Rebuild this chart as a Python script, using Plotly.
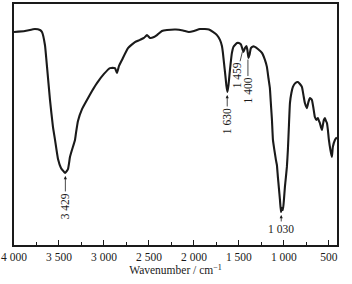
import plotly.graph_objects as go

wavenumber = [4000, 3878, 3767, 3711, 3689, 3656, 3633, 3600, 3567, 3544, 3511, 3478, 3433, 3400,
              3378, 3356, 3322, 3311, 3289, 3244, 3189, 3133, 3078, 3000, 2933, 2878, 2856, 2833,
              2800, 2733, 2656, 2600, 2556, 2522, 2489, 2444, 2411, 2356, 2300, 2200, 2122, 2056,
              2000, 1933, 1878, 1833, 1789, 1744, 1711, 1689, 1678, 1667, 1650, 1639, 1628, 1617,
              1600, 1578, 1561, 1544, 1522, 1500, 1478, 1461, 1450, 1433, 1417, 1406, 1394, 1383,
              1367, 1344, 1322, 1289, 1244, 1211, 1189, 1172, 1156, 1144, 1133, 1122, 1106, 1089,
              1078, 1067, 1056, 1044, 1033, 1022, 1011, 1000, 989, 978, 967, 956, 944, 933, 917,
              900, 872, 844, 822, 800, 783, 767, 744, 728, 711, 689, 672, 656, 639, 622, 611, 600,
              589, 578, 567, 556, 544, 533, 522, 511, 500, 483, 467, 456, 433, 417, 411]
transmittance = [88.4, 88.8, 89.6, 89.2, 88.4, 83.0, 73.9, 60.2, 49.0, 43.6, 35.7, 32.0, 29.9, 31.5,
                 36.5, 39.4, 43.6, 46.5, 51.5, 56.4, 60.2, 63.9, 67.2, 71.0, 73.4, 73.4, 71.4, 74.3,
                 76.8, 81.7, 84.2, 85.1, 85.9, 87.1, 85.9, 86.3, 87.1, 88.8, 89.2, 89.4, 89.0, 88.4,
                 88.8, 89.6, 89.6, 89.4, 88.4, 87.1, 85.1, 82.6, 79.7, 75.9, 70.1, 66.0, 63.5, 66.0,
                 72.6, 79.7, 82.2, 83.0, 83.8, 83.8, 83.2, 81.3, 80.1, 81.7, 82.6, 80.9, 77.6, 78.8,
                 81.7, 82.4, 82.2, 81.3, 79.7, 76.8, 73.9, 69.3, 65.1, 58.1, 51.9, 43.6, 39.4, 35.3,
                 33.2, 28.2, 23.7, 18.7, 13.7, 15.4, 14.5, 18.7, 24.1, 28.2, 32.4, 39.4, 49.8, 58.9, 63.1,
                 65.6, 67.2, 67.6, 66.8, 65.6, 62.2, 58.9, 56.8, 59.3, 61.0, 60.2, 56.8, 53.1, 51.9, 52.7, 51.5, 50.6,
                 49.0, 47.7, 49.8, 51.9, 52.7, 51.5, 50.6, 47.7, 43.6, 39.4, 36.5, 40.7, 43.6, 44.4, 44.6]

tick_values = [4000, 3500, 3000, 2500, 2000, 1500, 1000, 500]
tick_labels = ["4 000", "3 500", "3 000", "2 500", "2 000", "1 500", "1 000", "500"]

peak_labels = ["3 429", "1 630", "1 459", "1 400", "1 030"]
peak_x = [3429, 1630, 1459, 1400, 1030]
peak_y = [29.9, 63.5, 80.6, 77.8, 13.7]

FONT = "Liberation Serif, Times New Roman, serif"
INK = "#1a1a1a"
FS = 11.5

fig = go.Figure()
fig.add_trace(go.Scatter(x=wavenumber, y=transmittance, mode="lines",
                         line=dict(color=INK, width=2.1, shape="spline", smoothing=0.4),
                         hoverinfo="skip", showlegend=False))

# annotation styles: (ax, ay, textangle, arrowhead, standoff)
styles = [(0, 33, -90, 2, 3), (0, 29, -90, 2, 3), (-6, 25, -90, 0, 1), (0, 33, -90, 0, 2), (0, 17, 0, 2, 3)]
for lab, px, py, st in zip(peak_labels, peak_x, peak_y, styles):
    ax, ay, ang, head, so = st
    fig.add_annotation(x=px, y=py, text=lab, showarrow=True, ax=ax, ay=ay, textangle=ang,
                       arrowhead=head, arrowsize=0.8, arrowwidth=0.8, arrowcolor=INK, standoff=so,
                       font=dict(family=FONT, size=FS, color=INK))

fig.update_layout(
    width=352, height=284,
    margin=dict(l=14, r=15, t=4, b=39, autoexpand=False),
    paper_bgcolor="white", plot_bgcolor="white",
    font=dict(family=FONT, size=FS, color=INK),
    xaxis=dict(range=[4000, 410], tickvals=tick_values, ticktext=tick_labels, automargin=False,
               ticks="inside", ticklen=5, tickwidth=1.2, tickcolor=INK,
               minor=dict(dtick=250, tick0=0, ticks="inside", ticklen=3, tickwidth=1, tickcolor=INK),
               showline=True, linecolor=INK, linewidth=1.5, mirror=True, showgrid=False, zeroline=False,
               tickfont=dict(family=FONT, size=FS, color=INK),
               title=dict(text="Wavenumber / cm<sup>−1</sup>", standoff=2,
                          font=dict(family=FONT, size=FS, color=INK))),
    yaxis=dict(range=[0, 100], showticklabels=False, ticks="", showgrid=False, zeroline=False,
               automargin=False,
               showline=True, linecolor=INK, linewidth=1.5, mirror=True),
)

fig.write_html("out.html", config={"displayModeBar": False},
               post_script="document.body.style.margin='0';document.body.style.overflow='hidden';")
